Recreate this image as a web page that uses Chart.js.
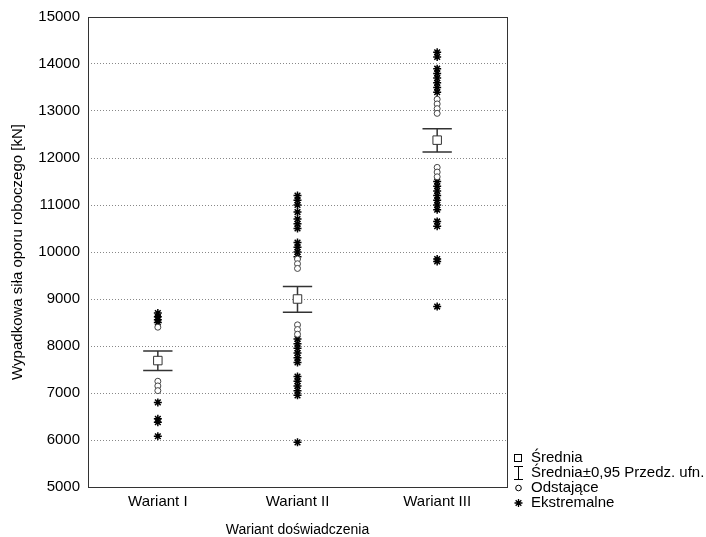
<!DOCTYPE html>
<html>
<head>
<meta charset="utf-8">
<script src="https://cdn.jsdelivr.net/npm/chart.js@4"></script>
<style>
  html, body { margin: 0; background: #fff; }
</style>
</head>
<body>
<canvas id="myChart" width="706" height="537"></canvas>
<script>
// categories and values
const categories = ["Wariant I", "Wariant II", "Wariant III"];
const yTicks = [5000, 6000, 7000, 8000, 9000, 10000, 11000, 12000, 13000, 14000, 15000];

const means = [7690, 9000, 12380];
const ciUpper = [7895, 9265, 12620];
const ciLower = [7480, 8720, 12130];

const outliersI = [8400, 7250, 7150, 7050];
const outliersII = [9850, 9750, 9650, 8450, 8350, 8250];
const outliersIII = [13250, 13150, 13050, 12950, 11800, 11700, 11600];

const extremesI = [8700, 8620, 8560, 8500, 6800, 6450, 6380, 6080];
const extremesII = [11200, 11100, 11000, 10850, 10700, 10600, 10500, 10200, 10100, 10000, 9900,
  8150, 8050, 7950, 7850, 7750, 7650, 7350, 7250, 7150, 7050, 6950, 5950];
const extremesIII = [14250, 14150, 13900, 13800, 13700, 13600, 13500, 13400,
  11500, 11400, 11300, 11200, 11100, 11000, 10900, 10650, 10550, 9850, 9800, 8840];

const legendLabels = ["Średnia", "Średnia±0,95 Przedz. ufn.", "Odstające", "Ekstremalne"];

const FONT = "'Liberation Sans', Arial, sans-serif";
const capHalf = 0.105; // half width of the whisker caps, in category units

function toPoints(groups) {
  let pts = [];
  groups.forEach(function (vals, i) {
    vals.forEach(function (v) { pts.push({ x: i + 1, y: v }); });
  });
  return pts;
}

// whiskers: caps and vertical line, split by null points
function ciSegments() {
  let pts = [];
  for (let i = 0; i < categories.length; i++) {
    let x = i + 1;
    pts.push({ x: x - capHalf, y: ciUpper[i] }, { x: x + capHalf, y: ciUpper[i] }, { x: x, y: null });
    pts.push({ x: x - capHalf, y: ciLower[i] }, { x: x + capHalf, y: ciLower[i] }, { x: x, y: null });
    pts.push({ x: x, y: ciLower[i] }, { x: x, y: ciUpper[i] }, { x: x, y: null });
  }
  return pts;
}

// frame round the plot area
const framePlugin = {
  id: "frame",
  beforeDatasetsDraw(chart) {
    const a = chart.chartArea, ctx = chart.ctx;
    ctx.save();
    ctx.strokeStyle = "#333";
    ctx.lineWidth = 1;
    ctx.strokeRect(Math.round(a.left) + 0.5, Math.round(a.top) + 0.5,
      Math.round(a.right - a.left), Math.round(a.bottom - a.top));
    ctx.restore();
  }
};

// legend in the lower right corner, like the original
const legendPlugin = {
  id: "sideLegend",
  afterDraw(chart) {
    const ctx = chart.ctx;
    const mx = 518, tx = 531;
    const rows = [458, 473, 488, 503];
    ctx.save();
    ctx.fillStyle = "#000";
    ctx.font = "15px " + FONT;
    ctx.textBaseline = "middle";
    legendLabels.forEach(function (t, i) { ctx.fillText(t, tx, rows[i]); });

    ctx.strokeStyle = "#000";
    ctx.lineWidth = 1;
    // square
    ctx.strokeRect(mx - 3.5, rows[0] - 3.5, 7, 7);
    // whisker
    ctx.beginPath();
    ctx.moveTo(mx - 4, rows[1] - 6.5); ctx.lineTo(mx + 5, rows[1] - 6.5);
    ctx.moveTo(mx + 0.5, rows[1] - 6.5); ctx.lineTo(mx + 0.5, rows[1] + 6.5);
    ctx.moveTo(mx - 4, rows[1] + 6.5); ctx.lineTo(mx + 5, rows[1] + 6.5);
    ctx.stroke();
    // circle
    ctx.beginPath();
    ctx.arc(mx + 0.5, rows[2], 2.8, 0, Math.PI * 2);
    ctx.stroke();
    // star
    ctx.lineWidth = 1.3;
    ctx.beginPath();
    for (let k = 0; k < 4; k++) {
      let ang = k * Math.PI / 4;
      ctx.moveTo(mx + 0.5 - Math.cos(ang) * 4, rows[3] - Math.sin(ang) * 4);
      ctx.lineTo(mx + 0.5 + Math.cos(ang) * 4, rows[3] + Math.sin(ang) * 4);
    }
    ctx.stroke();
    ctx.restore();
  }
};

window.onload = function () {
  var ctx = document.getElementById("myChart").getContext("2d");

  var myChart = new Chart(ctx, {
    type: "scatter",
    data: {
      datasets: [
        {
          label: legendLabels[0],
          data: means.map(function (v, i) { return { x: i + 1, y: v }; }),
          pointStyle: "rect",
          pointRadius: 6,
          backgroundColor: "#fff",
          borderColor: "#333",
          borderWidth: 1,
        },
        {
          label: legendLabels[2],
          data: toPoints([outliersI, outliersII, outliersIII]),
          pointStyle: "circle",
          pointRadius: 3,
          backgroundColor: "#fff",
          borderColor: "#444",
          borderWidth: 1,
        },
        {
          label: legendLabels[3],
          data: toPoints([extremesI, extremesII, extremesIII]),
          pointStyle: "star",
          pointRadius: 4,
          borderColor: "#000",
          borderWidth: 1.5,
        },
        {
          type: "line",
          label: legendLabels[1],
          data: ciSegments(),
          showLine: true,
          spanGaps: false,
          pointRadius: 0,
          borderColor: "#333",
          borderWidth: 1.5,
        },
      ],
    },
    options: {
      responsive: false,
      animation: false,
      layout: { padding: { top: 17, right: 199, left: 0, bottom: 0 } },
      plugins: {
        legend: { display: false },
        tooltip: { enabled: false },
      },
      scales: {
        x: {
          type: "linear",
          min: 0.5,
          max: 3.5,
          afterBuildTicks: function (s) {
            s.ticks = categories.map(function (c, i) { return { value: i + 1 }; });
          },
          afterFit: function (s) { s.height = 50; },
          grid: { display: false, drawTicks: false },
          border: { display: false },
          ticks: {
            padding: 6,
            color: "#000",
            font: { family: FONT, size: 15 },
            callback: function (v) { return categories[v - 1]; },
          },
          title: {
            display: true,
            text: "Wariant doświadczenia",
            color: "#000",
            font: { family: FONT, size: 14, lineHeight: 1 },
            padding: { top: 0, bottom: 0 },
          },
        },
        y: {
          min: 5000,
          max: 15000,
          afterBuildTicks: function (s) {
            s.ticks = yTicks.map(function (v) { return { value: v }; });
          },
          afterFit: function (s) { s.width = 88; },
          grid: { color: "#888", drawTicks: false },
          border: { display: false, dash: [1, 2] },
          ticks: {
            padding: 8,
            color: "#000",
            font: { family: FONT, size: 15 },
            callback: function (v) { return String(v); },
          },
          title: {
            display: true,
            text: "Wypadkowa siła oporu roboczego [kN]",
            color: "#000",
            font: { family: FONT, size: 15 },
            padding: { top: 9, bottom: 0 },
          },
        },
      },
    },
    plugins: [framePlugin, legendPlugin],
  });
};
</script>
</body>
</html>
